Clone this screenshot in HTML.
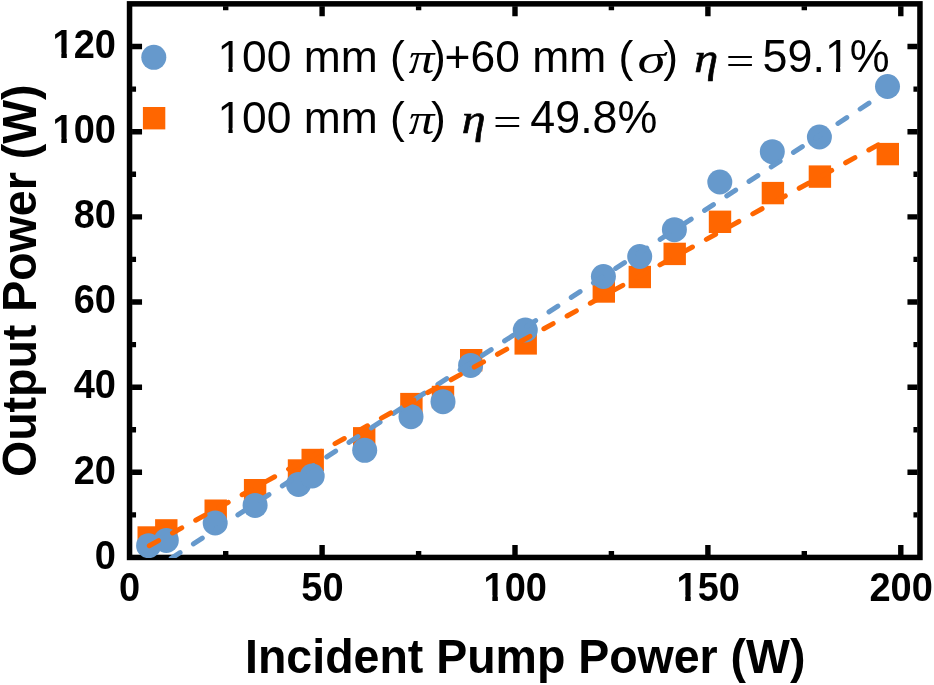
<!DOCTYPE html>
<html><head><meta charset="utf-8"><title>Output Power vs Incident Pump Power</title>
<style>
html,body{margin:0;padding:0;background:#fff;}
svg{display:block;}
text{font-family:"Liberation Sans",sans-serif;fill:#000;}
.tk{font-weight:bold;font-size:38px;}
.ax{font-weight:bold;font-size:46.5px;}
.lg{font-size:44.4px;}
.gi{font-family:"Liberation Serif",serif;font-style:italic;}
.eq{font-family:"Liberation Serif",serif;}
.gb{font-family:"Liberation Serif",serif;font-style:italic;stroke:#000;stroke-width:0.65px;}
</style></head><body>
<svg width="934" height="685" viewBox="0 0 934 685">
<rect width="934" height="685" fill="#fff"/>
<defs><clipPath id="cp"><rect x="129.55" y="3.85" width="790.4000000000001" height="554.2"/></clipPath></defs>

<rect x="129.55" y="3.85" width="790.4000000000001" height="553.6" fill="none" stroke="#000" stroke-width="5.5"/>
<path d="M225.7 554.95v-4M225.7 6.35v4M322.1 554.95v-10M322.1 6.35v10M418.6 554.95v-4M418.6 6.35v4M515.0 554.95v-10M515.0 6.35v10M611.4 554.95v-4M611.4 6.35v4M707.9 554.95v-10M707.9 6.35v10M804.3 554.95v-4M804.3 6.35v4M900.8 554.95v-10M900.8 6.35v10M132.05 514.9h4M917.45 514.9h-4M132.05 472.3h10M917.45 472.3h-10M132.05 429.8h4M917.45 429.8h-4M132.05 387.2h10M917.45 387.2h-10M132.05 344.6h4M917.45 344.6h-4M132.05 302.0h10M917.45 302.0h-10M132.05 259.4h4M917.45 259.4h-4M132.05 216.9h10M917.45 216.9h-10M132.05 174.3h4M917.45 174.3h-4M132.05 131.7h10M917.45 131.7h-10M132.05 89.1h4M917.45 89.1h-4M132.05 46.5h10M917.45 46.5h-10" stroke="#000" stroke-width="5.4" fill="none"/>
<g clip-path="url(#cp)">
<g fill="#ff6600">
<rect x="137.5" y="526.3" width="22.4" height="22.4"/>
<rect x="155.1" y="519.2" width="22.4" height="22.4"/>
<rect x="204.5" y="499.5" width="22.4" height="22.4"/>
<rect x="243.9" y="479.0" width="22.4" height="22.4"/>
<rect x="287.8" y="459.3" width="22.4" height="22.4"/>
<rect x="301.5" y="448.8" width="22.4" height="22.4"/>
<rect x="353.0" y="427.1" width="22.4" height="22.4"/>
<rect x="400.2" y="392.9" width="22.4" height="22.4"/>
<rect x="431.8" y="385.8" width="22.4" height="22.4"/>
<rect x="460.0" y="349.0" width="22.4" height="22.4"/>
<rect x="514.5" y="332.2" width="22.4" height="22.4"/>
<rect x="592.6" y="280.3" width="22.4" height="22.4"/>
<rect x="628.6" y="265.8" width="22.4" height="22.4"/>
<rect x="663.5" y="242.7" width="22.4" height="22.4"/>
<rect x="708.8" y="210.6" width="22.4" height="22.4"/>
<rect x="761.7" y="181.9" width="22.4" height="22.4"/>
<rect x="808.7" y="165.4" width="22.4" height="22.4"/>
<rect x="876.6" y="142.9" width="22.4" height="22.4"/>
</g>
<g fill="#6699cc">
<circle cx="148.6" cy="545.7" r="12.5"/>
<circle cx="166.3" cy="540.4" r="12.5"/>
<circle cx="215.2" cy="523.0" r="12.5"/>
<circle cx="255.1" cy="505.4" r="12.5"/>
<circle cx="298.5" cy="484.4" r="12.5"/>
<circle cx="312.2" cy="476.0" r="12.5"/>
<circle cx="364.7" cy="450.3" r="12.5"/>
<circle cx="411.0" cy="416.7" r="12.5"/>
<circle cx="443.0" cy="401.7" r="12.5"/>
<circle cx="470.6" cy="365.4" r="12.5"/>
<circle cx="525.3" cy="330.0" r="12.5"/>
<circle cx="603.4" cy="276.5" r="12.5"/>
<circle cx="639.7" cy="256.5" r="12.5"/>
<circle cx="674.4" cy="229.7" r="12.5"/>
<circle cx="719.8" cy="182.0" r="12.5"/>
<circle cx="772.3" cy="151.7" r="12.5"/>
<circle cx="819.4" cy="137.0" r="12.5"/>
<circle cx="887.5" cy="86.5" r="12.5"/>
</g>
<line x1="148.97" y1="572.87" x2="879.00" y2="96.67" stroke="#6699cc" stroke-width="5" stroke-linecap="round" stroke-dasharray="10.6 15.934"/>
<line x1="149.30" y1="545.75" x2="878.50" y2="144.69" stroke="#ff6600" stroke-width="5" stroke-linecap="round" stroke-dasharray="10.6 15.89"/>
</g>
<text class="tk" transform="translate(129.50 600.60) scale(1 1.064)" text-anchor="middle">0</text>
<text class="tk" transform="translate(322.40 600.60) scale(1 1.064)" text-anchor="middle">50</text>
<text class="tk" transform="translate(515.30 600.60) scale(1 1.064)" text-anchor="middle">100</text>
<rect x="484.79" y="595.17" width="7.53" height="6.13" fill="#fff"/><rect x="497.83" y="595.17" width="7.04" height="6.13" fill="#fff"/>
<text class="tk" transform="translate(708.20 600.60) scale(1 1.064)" text-anchor="middle">150</text>
<rect x="677.69" y="595.17" width="7.53" height="6.13" fill="#fff"/><rect x="690.73" y="595.17" width="7.04" height="6.13" fill="#fff"/>
<text class="tk" transform="translate(901.10 600.60) scale(1 1.064)" text-anchor="middle">200</text>
<text class="tk" transform="translate(116.00 568.80) scale(1 1.064)" text-anchor="end">0</text>
<text class="tk" transform="translate(116.00 483.64) scale(1 1.064)" text-anchor="end">20</text>
<text class="tk" transform="translate(116.00 398.48) scale(1 1.064)" text-anchor="end">40</text>
<text class="tk" transform="translate(116.00 313.32) scale(1 1.064)" text-anchor="end">60</text>
<text class="tk" transform="translate(116.00 228.16) scale(1 1.064)" text-anchor="end">80</text>
<text class="tk" transform="translate(116.00 143.00) scale(1 1.064)" text-anchor="end">100</text>
<rect x="53.79" y="137.57" width="7.53" height="6.13" fill="#fff"/><rect x="66.83" y="137.57" width="7.04" height="6.13" fill="#fff"/>
<text class="tk" transform="translate(116.00 57.84) scale(1 1.064)" text-anchor="end">120</text>
<rect x="53.79" y="52.41" width="7.53" height="6.13" fill="#fff"/><rect x="66.83" y="52.41" width="7.04" height="6.13" fill="#fff"/>
<text class="ax" transform="translate(525.25 672.50) scale(1 1.036)" text-anchor="middle">Incident Pump Power (W)</text>
<text class="ax" transform="translate(35.60 280.75) rotate(-90) scale(1 1.035)" text-anchor="middle">Output Power (W)</text>
<circle cx="153.8" cy="57.3" r="12.5" fill="#6699cc"/>
<rect x="142.9" y="107.0" width="22.4" height="22.4" fill="#ff6600"/>
<text class="lg" transform="translate(217.40 71.70) scale(1 1.02)">100 mm (</text>
<rect x="219.58" y="67.02" width="8.83" height="5.38" fill="#fff"/><rect x="232.64" y="67.02" width="8.49" height="5.38" fill="#fff"/>
<text class="gi" transform="translate(408.80 72.70) scale(1.137 1)" style="font-size:45px">π</text>
<text class="lg" transform="translate(217.40 132.50) scale(1 1.02)">100 mm (</text>
<rect x="219.58" y="127.82" width="8.83" height="5.38" fill="#fff"/><rect x="232.64" y="127.82" width="8.49" height="5.38" fill="#fff"/>
<text class="gi" transform="translate(408.80 133.50) scale(1.137 1)" style="font-size:45px">π</text>
<text class="lg" transform="translate(431.00 71.70) scale(1 1.02)">)</text>
<text class="lg" transform="translate(444.60 71.70) scale(1 1.02)">+60 mm (</text>
<text class="gi" transform="translate(637.50 72.50) scale(1.3 0.92)" style="font-size:44px">σ</text>
<text class="lg" transform="translate(663.30 71.70) scale(1 1.02)">)</text>
<text class="gb" transform="translate(694.30 71.70) scale(1.12 1)" style="font-size:43px">η</text>
<text class="eq" transform="translate(725.70 75.00) scale(1.27 1)" style="font-size:40px">=</text>
<text class="lg" transform="translate(762.60 71.70) scale(1 1.02)" style="font-size:44.8px">59.1%</text>
<rect x="827.09" y="66.99" width="8.90" height="5.41" fill="#fff"/><rect x="840.25" y="66.99" width="8.55" height="5.41" fill="#fff"/>
<text class="lg" transform="translate(431.00 132.50) scale(1 1.02)">)</text>
<text class="gb" transform="translate(461.70 132.50) scale(1.12 1)" style="font-size:43px">η</text>
<text class="eq" transform="translate(492.90 135.80) scale(1.27 1)" style="font-size:40px">=</text>
<text class="lg" transform="translate(530.30 132.50) scale(1 1.02)" style="font-size:44.8px">49.8%</text>
</svg></body></html>
